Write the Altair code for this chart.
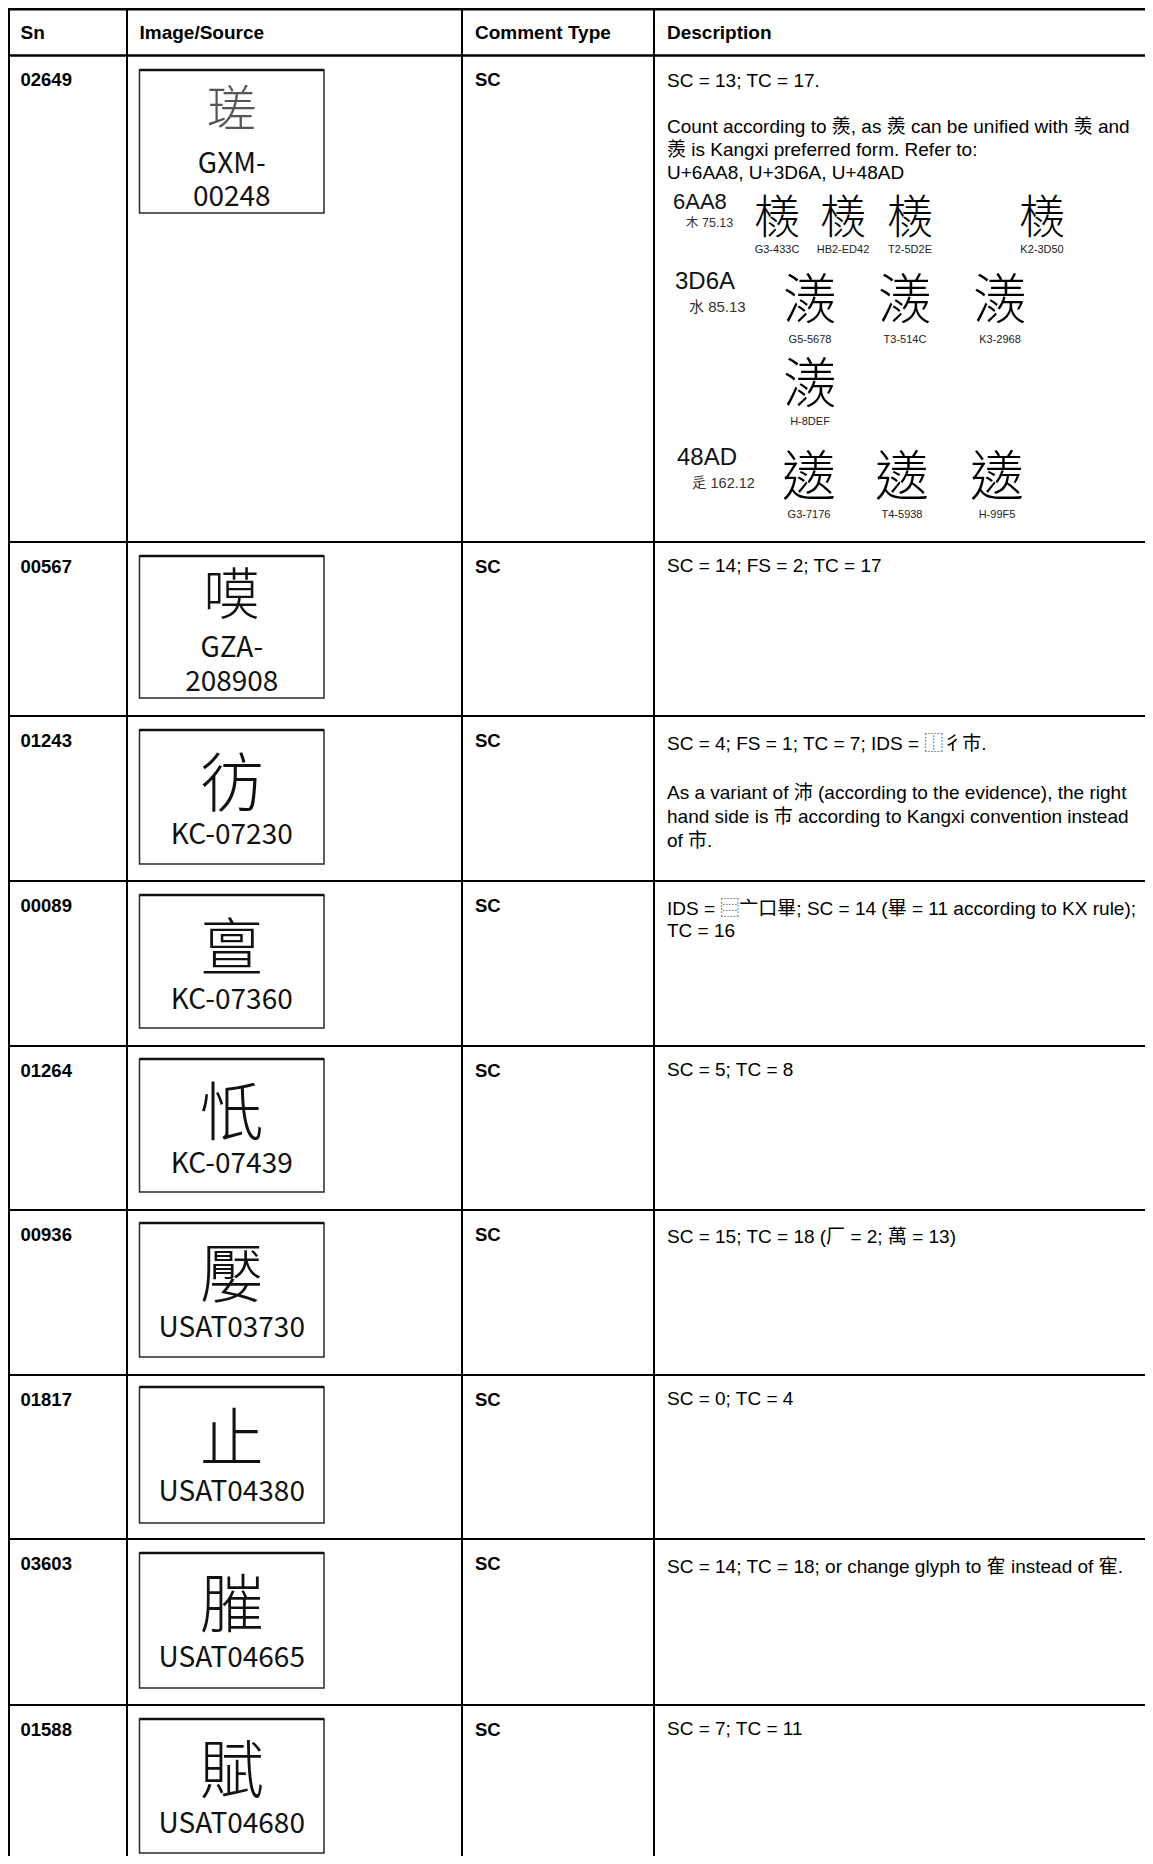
import altair as alt
import pandas as pd

# ------------------------------------------------------------------ data
headers = ["Sn", "Image/Source", "Comment Type", "Description"]
sn = ["02649", "00567", "01243", "00089", "01264", "00936", "01817", "03603", "01588"]
glyphs = ["瑳", "嗼", "彷", "亶", "忯", "嬮", "止", "膗", "賦"]
sources = [["GXM-", "00248"], ["GZA-", "208908"], ["KC-07230"], ["KC-07360"],
           ["KC-07439"], ["USAT03730"], ["USAT04380"], ["USAT04665"], ["USAT04680"]]
comment_type = ["SC", "SC", "SC", "SC", "SC", "SC", "SC", "SC", "SC"]
descriptions = [
    ["SC = 13; TC = 17.", "",
     "Count according to \u7fa8, as \u7fa8 can be unified with \u7fa1 and",
     "\u7fa8 is Kangxi preferred form. Refer to:",
     "U+6AA8, U+3D6A, U+48AD"],
    ["SC = 14; FS = 2; TC = 17"],
    ["SC = 4; FS = 1; TC = 7; IDS = \u2ff0彳巿.", "",
     "As a variant of 沛 (according to the evidence), the right",
     "hand side is 巿 according to Kangxi convention instead",
     "of 市."],
    ["IDS = \u2ff3亠口畢; SC = 14 (畢 = 11 according to KX rule);", "TC = 16"],
    ["SC = 5; TC = 8"],
    ["SC = 15; TC = 18 (厂 = 2; 萬 = 13)"],
    ["SC = 0; TC = 4"],
    ["SC = 14; TC = 18; or change glyph to 隺 instead of 寉."],
    ["SC = 7; TC = 11"],
]
ref_codes = ["6AA8", "3D6A", "48AD"]
ref_radicals = ["木 75.13", "水 85.13", "辵 162.12"]
ref_glyphs = ["檨", "\u3d6a", "\u48ad"]
ref_sources = [["G3-433C", "HB2-ED42", "T2-5D2E", "K2-3D50"],
               ["G5-5678", "T3-514C", "K3-2968", "H-8DEF"],
               ["G3-7176", "T4-5938", "H-99F5"]]

# ------------------------------------------------------------------ layout
W, H = 1137, 1848
X0, Y0 = 8, 8
col_lines = [9, 127, 462, 654]
text_x = [20.5, 139.5, 475, 667]
table_top = 9.3
row_tops = [55.5, 542, 716, 881, 1046, 1210, 1375, 1539, 1705]
page_bottom = Y0 + H
box_x = (139.5, 324)
box_tops = [70, 556, 730, 895, 1059, 1223, 1387, 1553, 1719]
box_bottoms = [213, 698, 864, 1028, 1192, 1357, 1523, 1688, 1853]
glyph_center = [38, 37, 52, 52, 52, 50, 50, 50, 50]
glyph_size = [50, 56, 64, 64, 64, 64, 64, 64, 64]
src_offsets = [[103, 136], [101, 135]] + [[114]] * 7
desc_first = [31, 30, 34, 34, 30, 33, 30, 34, 30]
desc_lh = [23, 23, 24.3, 22, 23, 23, 23, 23, 23]

ref_code_pos = [(673, 209, 22), (675, 289, 24), (677, 465, 24)]
ref_rad_pos = [(686, 227, 12.5), (689, 312, 15), (692, 488, 14.5)]
ref_glyph_pos = [[(777, 216), (843, 216), (910, 216), (1042, 216)],
                 [(810, 298), (905, 298), (1000, 298), (810, 382)],
                 [(809, 475), (902, 475), (997, 475)]]
ref_glyph_size = [46, 54, 54]
ref_label_y = [[253, 253, 253, 253], [343, 343, 343, 425], [518, 518, 518]]

xs = alt.Scale(domain=[X0, X0 + W], nice=False, zero=False)
ys = alt.Scale(domain=[Y0, Y0 + H], nice=False, zero=False, reverse=True)


def ex(f="x"):
    return alt.X(f"{f}:Q", scale=xs, axis=None)


def ey(f="y"):
    return alt.Y(f"{f}:Q", scale=ys, axis=None)


# ------------------------------------------------------------------ frames
hl = [{"x": X0, "x2": X0 + W, "y": table_top, "y2": table_top, "w": 2.4},
      {"x": X0, "x2": X0 + W, "y": row_tops[0], "y2": row_tops[0], "w": 2.4}]
for t in row_tops[1:]:
    hl.append({"x": X0, "x2": X0 + W, "y": t, "y2": t, "w": 2})
for c in col_lines:
    hl.append({"x": c, "x2": c, "y": table_top, "y2": page_bottom, "w": 2})
lines_df = pd.DataFrame(hl)

boxes_df = pd.DataFrame({"x": [box_x[0]] * 9, "x2": [box_x[1]] * 9,
                         "y": box_tops, "y2": box_bottoms})
boxtop_df = pd.DataFrame({"x": [box_x[0]] * 9, "x2": [box_x[1]] * 9,
                          "y": box_tops, "y2": box_tops})

header_df = pd.DataFrame({"x": text_x, "y": [39.3] * 4, "t": headers})
sn_df = pd.DataFrame({"x": [text_x[0]] * 9, "y": [r + 30.5 for r in row_tops], "t": sn})
ct_df = pd.DataFrame({"x": [text_x[2]] * 9, "y": [r + 30.5 for r in row_tops], "t": comment_type})

drows = []
for i, lines in enumerate(descriptions):
    for j, ln in enumerate(lines):
        if ln:
            drows.append({"x": text_x[3], "y": row_tops[i] + desc_first[i] + j * desc_lh[i], "t": ln})
desc_df = pd.DataFrame(drows)

cx = (box_x[0] + box_x[1]) / 2
glyph_df = pd.DataFrame({
    "x": [cx] * 9,
    "y": [box_tops[i] + glyph_center[i] + 0.38 * glyph_size[i] for i in range(9)],
    "t": glyphs, "fs": glyph_size,
    "c": ["#555555"] + ["#111111"] * 8})
srows = []
for i, parts in enumerate(sources):
    for k, p in enumerate(parts):
        srows.append({"x": cx, "y": box_tops[i] + src_offsets[i][k], "t": p})
src_df = pd.DataFrame(srows)

code_df = pd.DataFrame({"x": [p[0] for p in ref_code_pos], "y": [p[1] for p in ref_code_pos],
                        "fs": [p[2] for p in ref_code_pos], "t": ref_codes})
rad_df = pd.DataFrame({"x": [p[0] for p in ref_rad_pos], "y": [p[1] for p in ref_rad_pos],
                       "fs": [p[2] for p in ref_rad_pos], "t": ref_radicals})
grows, lrows = [], []
for i, srcs in enumerate(ref_sources):
    for k, s in enumerate(srcs):
        gx, gy = ref_glyph_pos[i][k]
        fs = ref_glyph_size[i]
        grows.append({"x": gx, "y": gy + 0.38 * fs, "fs": fs, "t": ref_glyphs[i]})
        lrows.append({"x": gx, "y": ref_label_y[i][k], "t": s})
rg_df = pd.DataFrame(grows)
rl_df = pd.DataFrame(lrows)

# ------------------------------------------------------------------ layers
boxes = alt.Chart(boxes_df).mark_rect(fill="white", stroke="#2a2a2a", strokeWidth=1.5).encode(
    x=ex(), x2="x2:Q", y=ey(), y2="y2:Q")
boxtop = alt.Chart(boxtop_df).mark_rule(color="#111", strokeWidth=2.4).encode(
    x=ex(), x2="x2:Q", y=ey(), y2="y2:Q")
grid = alt.Chart(lines_df).mark_rule(color="#000", strokeCap="square").encode(
    x=ex(), x2="x2:Q", y=ey(), y2="y2:Q",
    strokeWidth=alt.StrokeWidth("w:Q", scale=None))


def txt(df, font, size=None, weight="normal", align="left", color="#000", sized=False, colored=False):
    kw = dict(align=align, baseline="alphabetic", font=font, fontWeight=weight)
    if not sized:
        kw["fontSize"] = size
    if not colored:
        kw["color"] = color
    enc = dict(x=ex(), y=ey(), text="t:N")
    if sized:
        enc["size"] = alt.Size("fs:Q", scale=None)
    if colored:
        enc["color"] = alt.Color("c:N", scale=None)
    return alt.Chart(df).mark_text(**kw).encode(**enc)


SANS = "Liberation Sans, Arial, Helvetica, sans-serif"
MIX = "Liberation Sans, Arial, Noto Sans CJK TC, sans-serif"
layers = [
    boxes, boxtop, grid,
    txt(header_df, SANS, 19, "bold"),
    txt(sn_df, SANS, 18.5, "bold"),
    txt(ct_df, SANS, 18.5, "bold"),
    txt(desc_df, MIX, 19, color="#000"),
    txt(glyph_df, "Noto Sans CJK SC", weight=300, align="center", sized=True, colored=True),
    txt(src_df, "Noto Sans CJK SC", 28, align="center", color="#111"),
    txt(code_df, SANS, align="left", color="#111", sized=True),
    txt(rad_df, MIX, align="left", color="#333", sized=True),
    txt(rg_df, "Noto Sans CJK TC", weight=300, align="center", color="#000", sized=True),
    txt(rl_df, "Liberation Sans Narrow, Liberation Sans, sans-serif", 11, align="center", color="#222"),
]

chart = alt.layer(*layers).properties(
    width=W, height=H, padding=0,
    autosize=alt.AutoSizeParams(type="none"),
).configure_view(strokeWidth=0)

chart.save("out.html", embed_options={"renderer": "svg", "actions": False})
